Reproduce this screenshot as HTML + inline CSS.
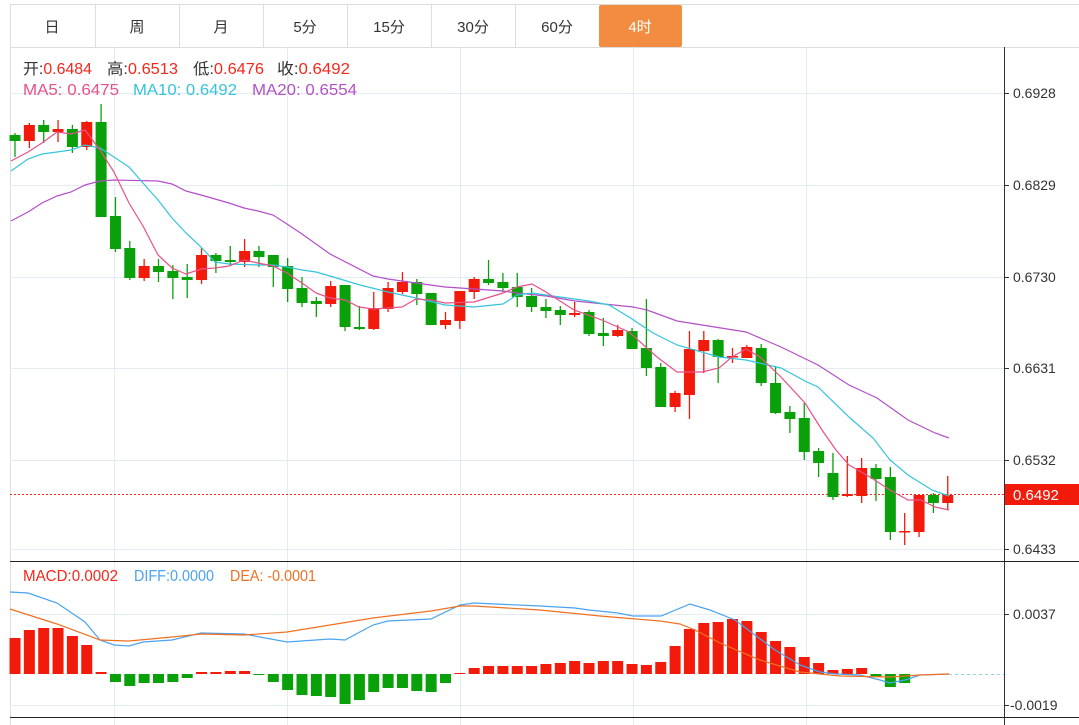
<!DOCTYPE html>
<html><head><meta charset="utf-8"><style>
body{margin:0;background:#fff;width:1079px;height:725px;overflow:hidden;font-family:"Liberation Sans","Noto Sans CJK SC",sans-serif}
svg{position:absolute;left:0;top:0}
</style></head><body>
<svg id="s" width="1079" height="725" xmlns="http://www.w3.org/2000/svg" font-family="Liberation Sans, Noto Sans CJK SC, sans-serif">
<line x1="10" y1="4.5" x2="1079" y2="4.5" stroke="#ddd"/>
<line x1="10" y1="47.5" x2="1079" y2="47.5" stroke="#ddd"/>
<line x1="10.5" y1="4" x2="10.5" y2="725" stroke="#ddd"/>
<g stroke="#ddd"><line x1="95.5" y1="4" x2="95.5" y2="47"/><line x1="179.5" y1="4" x2="179.5" y2="47"/><line x1="263.5" y1="4" x2="263.5" y2="47"/><line x1="347.5" y1="4" x2="347.5" y2="47"/><line x1="431.5" y1="4" x2="431.5" y2="47"/><line x1="515.5" y1="4" x2="515.5" y2="47"/></g>
<rect x="599" y="5" width="83" height="42" rx="2" fill="#f28c40"/>
<g font-size="15" fill="#333" text-anchor="middle">
<text x="52" y="32">日</text><text x="137" y="32">周</text><text x="221" y="32">月</text><text x="305" y="32">5分</text><text x="389" y="32">15分</text><text x="473" y="32">30分</text><text x="557" y="32">60分</text><text x="640" y="32" fill="#fff">4时</text></g>
<g stroke="#e3ebf3"><line x1="10" y1="93.5" x2="1004" y2="93.5"/><line x1="10" y1="185.5" x2="1004" y2="185.5"/><line x1="10" y1="277.5" x2="1004" y2="277.5"/><line x1="10" y1="368.5" x2="1004" y2="368.5"/><line x1="10" y1="460.5" x2="1004" y2="460.5"/><line x1="10" y1="549.5" x2="1004" y2="549.5"/><line x1="10" y1="614.5" x2="1004" y2="614.5"/><line x1="10" y1="705.5" x2="1004" y2="705.5"/>
<line x1="114.5" y1="47" x2="114.5" y2="725"/><line x1="287.5" y1="47" x2="287.5" y2="725"/><line x1="460.5" y1="47" x2="460.5" y2="725"/><line x1="633.5" y1="47" x2="633.5" y2="725"/><line x1="806.5" y1="47" x2="806.5" y2="725"/></g>
<line x1="1004.5" y1="47" x2="1004.5" y2="725" stroke="#333"/>
<line x1="10" y1="561.5" x2="1079" y2="561.5" stroke="#222"/>
<line x1="10" y1="717.5" x2="1079" y2="717.5" stroke="#222"/>
<g font-size="14" fill="#333">
<text x="1013" y="98">0.6928</text><text x="1013" y="190">0.6829</text><text x="1013" y="282">0.6730</text><text x="1013" y="373">0.6631</text><text x="1013" y="465">0.6532</text><text x="1013" y="554">0.6433</text><text x="1013" y="619">0.0037</text><text x="1010" y="710">-0.0019</text></g>
<g stroke="#333"><line x1="1005" y1="93.5" x2="1009" y2="93.5"/><line x1="1005" y1="185.5" x2="1009" y2="185.5"/><line x1="1005" y1="277.5" x2="1009" y2="277.5"/><line x1="1005" y1="368.5" x2="1009" y2="368.5"/><line x1="1005" y1="460.5" x2="1009" y2="460.5"/><line x1="1005" y1="549.5" x2="1009" y2="549.5"/><line x1="1005" y1="614.5" x2="1009" y2="614.5"/><line x1="1005" y1="705.5" x2="1009" y2="705.5"/></g>
<line x1="10" y1="494.5" x2="1004" y2="494.5" stroke="#f5261a" stroke-dasharray="2,2"/>
<rect x="1005" y="484" width="74" height="21" fill="#f21a0a"/>
<text x="1013" y="500" font-size="15" fill="#fff">0.6492</text>
<line x1="949" y1="674.5" x2="1004" y2="674.5" stroke="#8fd0f0" stroke-dasharray="3,3"/>
<g font-size="15.5">
<text x="23" y="74" textLength="69" lengthAdjust="spacingAndGlyphs"><tspan fill="#333">开:</tspan><tspan fill="#f5261a">0.6484</tspan></text>
<text x="107" y="74" textLength="71" lengthAdjust="spacingAndGlyphs"><tspan fill="#333">高:</tspan><tspan fill="#f5261a">0.6513</tspan></text>
<text x="193" y="74" textLength="71" lengthAdjust="spacingAndGlyphs"><tspan fill="#333">低:</tspan><tspan fill="#f5261a">0.6476</tspan></text>
<text x="277" y="74" textLength="73" lengthAdjust="spacingAndGlyphs"><tspan fill="#333">收:</tspan><tspan fill="#f5261a">0.6492</tspan></text>
<text x="23" y="95" fill="#e8508a" textLength="96" lengthAdjust="spacingAndGlyphs">MA5: 0.6475</text>
<text x="133" y="95" fill="#34c4dc" textLength="104" lengthAdjust="spacingAndGlyphs">MA10: 0.6492</text>
<text x="252" y="95" fill="#b44fc8" textLength="105" lengthAdjust="spacingAndGlyphs">MA20: 0.6554</text>
<text x="23" y="581" fill="#f5261a" textLength="95" lengthAdjust="spacingAndGlyphs">MACD:0.0002</text>
<text x="134" y="581" fill="#4aa3f0" textLength="80" lengthAdjust="spacingAndGlyphs">DIFF:0.0000</text>
<text x="230" y="581" fill="#f07020" textLength="86" lengthAdjust="spacingAndGlyphs">DEA: -0.0001</text>
</g>
<g id="c"></g>
</svg>
<script>
var C=[[135,141,133,157,0],[125,141,123,148,1],[125,132,120,143,0],[129,132,120,142,1],[129,147,125,153,0],[122,147,121,150,1],[122,217,104,217,0],[216,249,197,252,0],[248,278,241,280,0],[266,278,259,281,1],[266,272,259,282,0],[271,278,265,299,0],[277,280,264,298,0],[255,280,248,284,1],[255,261,253,273,0],[260,262,246,266,0],[251,262,239,267,1],[251,257,246,267,0],[255,267,255,287,0],[266,289,258,302,0],[288,303,277,307,0],[301,304,297,317,0],[286,304,281,307,1],[285,327,285,331,0],[327,329,306,330,0],[308,329,292,330,1],[288,309,282,312,1],[282,292,272,294,1],[282,294,279,305,0],[293,325,293,325,0],[320,325,312,329,1],[291,321,291,329,1],[279,292,277,299,1],[279,283,260,285,0],[282,288,273,292,0],[287,297,273,307,0],[296,307,288,312,0],[307,311,299,318,0],[310,315,306,325,0],[313,315,302,317,1],[312,334,310,336,0],[333,336,318,346,0],[330,336,325,337,1],[331,349,328,349,0],[348,368,299,376,0],[367,407,363,407,0],[393,407,391,412,1],[349,395,331,419,1],[340,351,331,373,1],[340,357,339,383,0],[356,357,348,363,1],[347,358,345,358,1],[348,383,344,386,0],[383,413,366,414,0],[412,419,406,433,0],[418,452,403,460,0],[451,463,448,477,0],[473,497,453,500,0],[494,496,456,497,1],[468,496,458,503,1],[468,479,464,501,0],[477,532,467,540,0],[531,532,513,545,1],[495,532,495,537,1],[495,503,493,513,0],[495,503,476,510,1]];
var M=[638,630,628,628,636,645,672,682,686,683,683,682,678,672,672,671,671,675,682,690,695,696,697,704,700,692,688,688,691,692,683,673,668,666,666,666,666,664,663,661,663,661,661,664,665,662,646,629,623,622,619,621,632,641,647,657,663,670,669,668,677,687,683,675,675,675];
function X(i){return 15+i*14.35}
var h='',G='#0aa00a',R='#f21a0a';
M.forEach(function(y,i){if(i>62)return;var x=X(i)-5.5;var col=y<674?R:G;var t=Math.min(y,674),b=Math.max(y,674);h+='<rect x="'+x+'" y="'+t+'" width="11" height="'+Math.max(1,b-t)+'" fill="'+col+'"/>';});
function P(a,c,w){return '<polyline fill="none" stroke="'+c+'" stroke-width="'+(w||1.2)+'" points="'+a.map(function(p){return p.join(',')}).join(' ')+'"/>'}
h+=P([[10,592],[28,593],[57,603],[85,622],[100,640],[114,645],[129,646],[143,642],[172,640],[201,633],[244,634],[287,642],[330,639],[345,640],[373,625],[388,621],[431,619],[460,605],[474,603],[540,606],[575,608],[589,610],[618,613],[633,616],[661,616],[690,604],[710,610],[735,620],[755,635],[775,650],[800,665],[820,672],[836,674],[860,675],[880,680],[890,683],[905,680],[920,675],[949,674]],'#4aa3f0');
h+=P([[10,609],[57,624],[100,640],[129,641],[172,637],[201,634],[244,635],[287,632],[330,625],[373,618],[431,611],[460,606],[474,606],[540,610],[600,616],[660,621],[680,624],[695,630],[720,643],[760,660],[800,672],[840,676],[890,677],[920,675],[949,674]],'#f07020');
C.forEach(function(c,i){var x=X(i),col=c[4]?R:G;h+='<line x1="'+x+'" x2="'+x+'" y1="'+c[2]+'" y2="'+c[3]+'" stroke="'+col+'" stroke-width="1.3"/>';h+='<rect x="'+(x-5.5)+'" y="'+c[0]+'" width="11" height="'+Math.max(1.5,c[1]-c[0])+'" fill="'+col+'"/>';});
h+=P([[11,221],[28,212],[42,203],[57,196],[71,192],[85,185],[100,181],[114,180],[158,181],[172,184],[186,191],[201,195],[215,199],[229,203],[244,208],[258,211],[273,215],[287,224],[302,234],[316,244],[330,254],[373,276],[388,279],[416,283],[445,287],[460,288],[503,291],[517,293],[546,296],[575,301],[604,304],[633,307],[647,310],[677,321],[746,332],[781,347],[818,365],[849,385],[877,398],[908,420],[935,433],[949,438]],'#b44fc8');
h+=P([[11,171],[28,159],[42,154],[57,152],[71,150],[85,145],[100,148],[114,157],[129,167],[143,183],[158,200],[172,218],[186,233],[201,247],[215,262],[229,264],[258,265],[273,265],[287,267],[302,270],[316,272],[330,276],[360,285],[388,292],[416,298],[445,305],[474,307],[503,304],[517,295],[532,293],[560,297],[589,301],[609,305],[629,317],[653,333],[677,345],[719,357],[746,360],[781,368],[805,381],[818,387],[849,417],[873,438],[890,460],[908,475],[932,490],[949,496]],'#34c4dc');
h+=P([[11,161],[28,152],[42,143],[57,132],[71,134],[85,130],[100,150],[114,172],[129,203],[143,226],[158,255],[172,268],[186,274],[201,269],[215,268],[229,266],[244,260],[258,263],[273,266],[287,273],[302,283],[316,293],[330,298],[345,300],[359,307],[373,309],[402,307],[416,299],[431,300],[445,303],[474,302],[503,293],[517,287],[532,284],[546,292],[574,310],[602,320],[629,332],[657,357],[677,372],[702,372],[719,368],[732,357],[746,349],[760,357],[781,377],[805,403],[822,430],[836,450],[849,465],[870,477],[890,490],[908,500],[921,500],[935,507],[949,510]],'#e8508a');
document.getElementById('c').innerHTML=h;
</script>
</body></html>
